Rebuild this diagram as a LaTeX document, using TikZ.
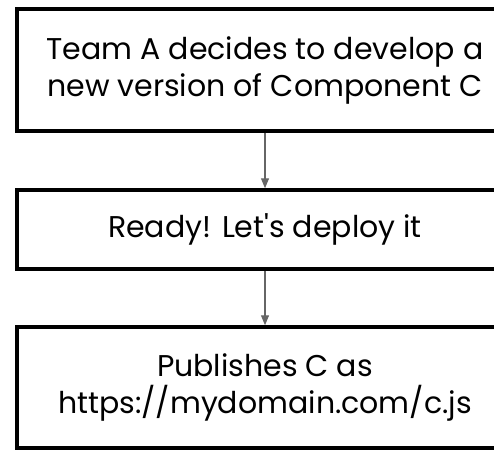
\documentclass[tikz,border=0pt]{standalone}
\usepackage{fontspec}
\setmainfont{Poppins}
\usetikzlibrary{arrows.meta}
\tikzset{
  stepbox/.style={draw=black,line width=3.5pt,minimum width=496pt,align=center,font=\fontsize{30}{37}\selectfont,inner sep=0pt},
  flow/.style={draw=black!60,line width=1.2pt,-{Triangle[width=8pt,length=10pt]}}
}
\begin{document}
\begin{tikzpicture}[x=1pt,y=-1pt]
\useasboundingbox (0,0) rectangle (494,449);
\clip (0,0) rectangle (494,449);

\node[stepbox,minimum height=122pt] (decide) at (265,70) {Team A decides to develop a\\new version of Component C};
\node[stepbox,minimum height=79pt] (ready) at (265,229.5) {Ready! Let\textquotesingle s deploy it};
\node[stepbox,minimum height=121pt] (publish) at (265,387.5) {Publishes C as\\https://mydomain.com/c.js};

\draw[flow] (decide)--(ready);
\draw[flow] (ready)--(publish);
\end{tikzpicture}
\end{document}
